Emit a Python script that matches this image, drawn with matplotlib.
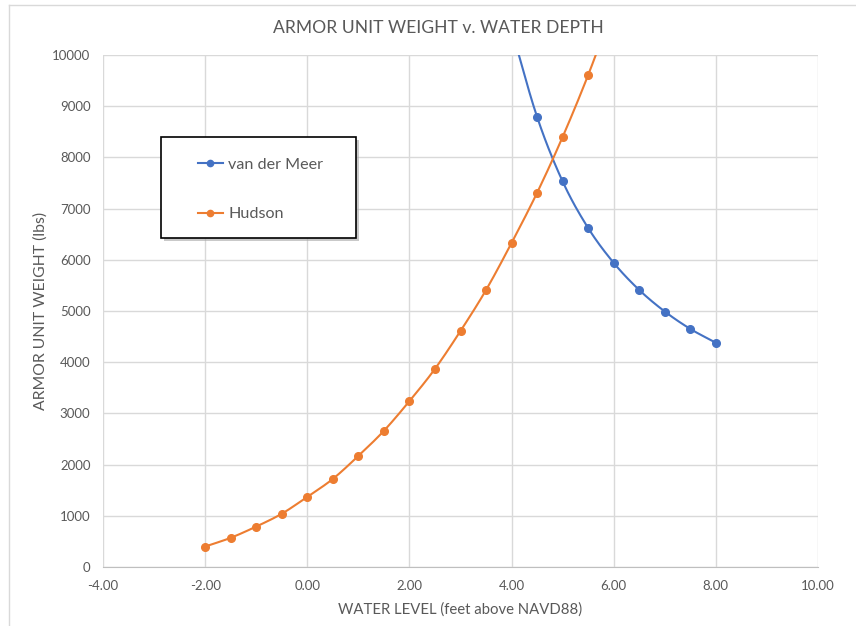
import numpy as np
import matplotlib.pyplot as plt
from matplotlib.lines import Line2D
from matplotlib.patches import Rectangle

# water level (feet above NAVD88) and armor unit weight (lbs)
hudson_x = [-2.0, -1.5, -1.0, -0.5, 0.0, 0.5, 1.0, 1.5, 2.0, 2.5,
            3.0, 3.5, 4.0, 4.5, 5.0, 5.5, 6.0]
hudson_w = [400, 570, 790, 1040, 1370, 1720, 2170, 2660, 3240, 3870,
            4610, 5410, 6330, 7310, 8400, 9610, 10950]

meer_x = [4.0, 4.5, 5.0, 5.5, 6.0, 6.5, 7.0, 7.5, 8.0]
meer_w = [10500, 8790, 7530, 6620, 5940, 5410, 4990, 4650, 4380]

x_ticks = [-4, -2, 0, 2, 4, 6, 8, 10]
y_ticks = [0, 1000, 2000, 3000, 4000, 5000, 6000, 7000, 8000, 9000, 10000]

BLUE = '#4472C4'
ORANGE = '#ED7D31'
GRAY = '#595959'
GRID = '#d9d9d9'
FONT = 'Lato'


def smooth(x, y, n=20):
    """Catmull-Rom curve through the points, like a spreadsheet smoothed line."""
    x = np.asarray(x, float)
    y = np.asarray(y, float)
    px = np.concatenate([[2 * x[0] - x[1]], x, [2 * x[-1] - x[-2]]])
    py = np.concatenate([[2 * y[0] - y[1]], y, [2 * y[-1] - y[-2]]])
    t = np.linspace(0, 1, n, endpoint=False)
    xs, ys = [], []
    for i in range(1, len(px) - 2):
        for p, out in ((px, xs), (py, ys)):
            p0, p1, p2, p3 = p[i - 1], p[i], p[i + 1], p[i + 2]
            out.extend(0.5 * (2 * p1 + (-p0 + p2) * t
                              + (2 * p0 - 5 * p1 + 4 * p2 - p3) * t ** 2
                              + (-p0 + 3 * p1 - 3 * p2 + p3) * t ** 3))
    xs.append(x[-1])
    ys.append(y[-1])
    return np.array(xs), np.array(ys)


fig = plt.figure(figsize=(8.56, 6.26), dpi=100)
ax = fig.add_axes([103 / 856, 1 - 567 / 626, 715 / 856, 512 / 626])

handles = []
for xs, ws, color, name in ((meer_x, meer_w, BLUE, 'van der Meer'),
                            (hudson_x, hudson_w, ORANGE, 'Hudson')):
    sx, sy = smooth(xs, ws)
    ax.plot(sx, sy, color=color, lw=1.5, solid_capstyle='round')
    ax.plot(xs, ws, 'o', color=color, ms=5.5)
    handles.append(Line2D([], [], color=color, marker='o', lw=1.5, ms=4.5,
                          label=name))

ax.set_xlim(-4, 10)
ax.set_ylim(0, 10000)
ax.set_xticks(x_ticks)
ax.set_xticklabels([f'{v:.2f}' for v in x_ticks])
ax.set_yticks(y_ticks)
ax.grid(True, color=GRID, lw=1)
ax.set_axisbelow(True)
for side in ('top', 'right', 'left'):
    ax.spines[side].set_visible(False)
ax.spines['bottom'].set_color('#bfbfbf')
ax.tick_params(length=0, labelsize=9.5, labelcolor=GRAY, pad=9)
for lab in ax.get_xticklabels() + ax.get_yticklabels():
    lab.set_family(FONT)

ax.set_xlabel('WATER LEVEL (feet above NAVD88)', family=FONT, fontsize=10.7,
              color=GRAY, labelpad=8)
ax.set_ylabel('ARMOR UNIT WEIGHT (lbs)', family=FONT, fontsize=11.3,
              color=GRAY, labelpad=3)
fig.text(0.5 * (280 + 597) / 856, 1 - 28 / 626,
         'ARMOR UNIT WEIGHT v. WATER DEPTH', family=FONT, fontsize=12.6,
         color=GRAY, ha='center', va='center')

# legend box with a drop shadow
bx, by, bw, bh = 161 / 856, 1 - 238 / 626, 195 / 856, 101 / 626
fig.add_artist(Rectangle((bx + 3 / 856, by - 3 / 626), bw, bh,
                         transform=fig.transFigure, facecolor='#a6a6a6',
                         edgecolor='none', alpha=0.6, zorder=4))
fig.add_artist(Rectangle((bx, by), bw, bh, transform=fig.transFigure,
                         facecolor='white', edgecolor='black', lw=1.2,
                         zorder=5))
leg = fig.legend(handles=handles, loc='upper left',
                 bbox_to_anchor=(183 / 856, 1 - 143 / 626), frameon=False,
                 handlelength=1.6, handletextpad=0.3, labelspacing=2.2,
                 prop={'family': FONT, 'size': 11.6})
leg.set_zorder(6)
for t in leg.get_texts():
    t.set_color(GRAY)

# chart area border
fig.add_artist(Line2D([9 / 856, 9 / 856], [0, 1 - 5 / 626], color=GRID, lw=1))
fig.add_artist(Line2D([9 / 856, 1], [1 - 5 / 626, 1 - 5 / 626], color=GRID, lw=1))

fig.savefig('out.png', dpi=100)
